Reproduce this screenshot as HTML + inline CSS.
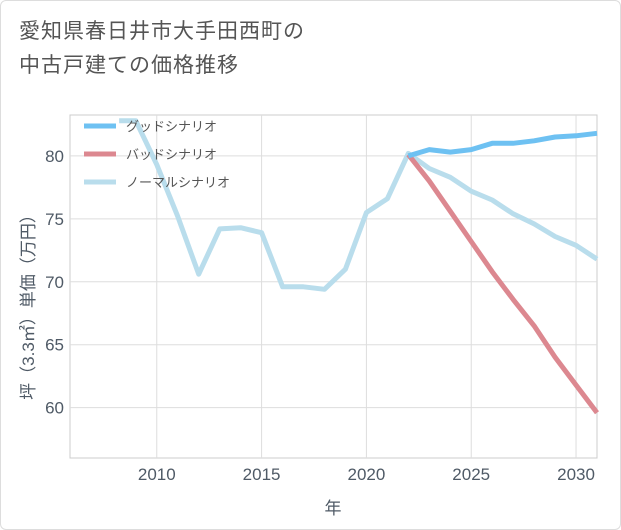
<!DOCTYPE html>
<html><head><meta charset="utf-8"><style>
body{margin:0;background:#fff;font-family:"Liberation Sans","Noto Sans CJK JP",sans-serif;}
#wrap{position:relative;width:619px;height:528px;border:1px solid #ddd;border-radius:6px;background:#fff;overflow:hidden}
.title{position:absolute;left:18px;top:14px;font-size:21px;color:#555;line-height:34px;letter-spacing:1px}
</style></head><body>
<div id="wrap">
<div class="title">愛知県春日井市大手田西町の<br>中古戸建ての価格推移</div>
<svg id="chart" width="621" height="530" style="position:absolute;left:-1px;top:-1px"></svg>
</div>
<script>
const xTicks=[2010,2015,2020,2025,2030];
const yTicks=[60,65,70,75,80];
const normalYears=[2008.2,2009,2010,2011,2012,2013,2014,2015,2016,2017,2018,2019,2020,2021,2022,2023,2024,2025,2026,2027,2028,2029,2030,2031];
const normalVals=[82.8,82.8,79.3,75.2,70.6,74.2,74.3,73.9,69.6,69.6,69.4,71.0,75.5,76.6,80.2,79.0,78.3,77.2,76.5,75.4,74.6,73.6,72.9,71.8];
const goodYears=[2022,2023,2024,2025,2026,2027,2028,2029,2030,2031];
const goodVals=[80.0,80.5,80.3,80.5,81.0,81.0,81.2,81.5,81.6,81.8];
const badYears=[2022,2023,2024,2025,2026,2027,2028,2029,2030,2031];
const badVals=[80.1,78.0,75.6,73.2,70.8,68.6,66.5,64.0,61.8,59.6];
const legendLabels=["グッドシナリオ","バッドシナリオ","ノーマルシナリオ"];
const colors=["#6ec1f2","#dc8890","#b9ddec"];

const L=70,R=597,T=115,B=458;
const X0=2005.86,X1=2031.0,Y0=56.0,Y1=83.25;
const sx=v=>L+(v-X0)/(X1-X0)*(R-L);
const sy=v=>B-(v-Y0)/(Y1-Y0)*(B-T);
const svg=document.getElementById('chart');
const NS='http://www.w3.org/2000/svg';
const axisColor='#4f5a66';
function mk(t,a,p){const e=document.createElementNS(NS,t);for(const k in a)e.setAttribute(k,a[k]);(p||svg).appendChild(e);return e;}
const plot=mk('rect',{x:L,y:T,width:R-L,height:B-T,fill:'#fff',stroke:'#ccc'});


xTicks.forEach(t=>{
 const g=mk('line',{x1:sx(t),x2:sx(t),y1:T,y2:B,stroke:'#ddd'});
 
 
 const tx=mk('text',{x:sx(t),y:B+22,'text-anchor':'middle','font-size':17,fill:axisColor});
 tx.textContent=t;
 
 
});
yTicks.forEach(t=>{
 const g=mk('line',{x1:L,x2:R,y1:sy(t),y2:sy(t),stroke:'#ddd'});
 
 
 const tx=mk('text',{x:L-6,y:sy(t)+6,'text-anchor':'end','font-size':17,fill:axisColor});
 tx.textContent=t;
 
 
});
const xt=mk('text',{x:333,y:514,'text-anchor':'middle','font-size':17,fill:axisColor});
xt.textContent='年';


const yt=mk('text',{x:0,y:0,'text-anchor':'middle','font-size':17,fill:axisColor,transform:'translate(34,303) rotate(-90)'});
yt.textContent='坪（3.3㎡）単価（万円）';


function line(xs,ys,c,name){
 const d=xs.map((x,i)=>(i?'L':'M')+sx(x).toFixed(1)+','+sy(ys[i]).toFixed(1)).join('');
 const p=mk('path',{d:d,fill:'none',stroke:c,'stroke-width':5,'stroke-linejoin':'round'});
 
 
}
line(normalYears,normalVals,colors[2],'normal-series-line');
line(badYears,badVals,colors[1],'bad-series-line');
line(goodYears,goodVals,colors[0],'good-series-line');
legendLabels.forEach((lab,i)=>{
 const y=126+i*28;
 const l=mk('line',{x1:84,x2:116,y1:y,y2:y,stroke:colors[i],'stroke-width':5});
 
 
 const t=mk('text',{x:126,y:y+5,'font-size':13,fill:'#555'});
 t.textContent=lab;
 
 
});
</script>
</body></html>
